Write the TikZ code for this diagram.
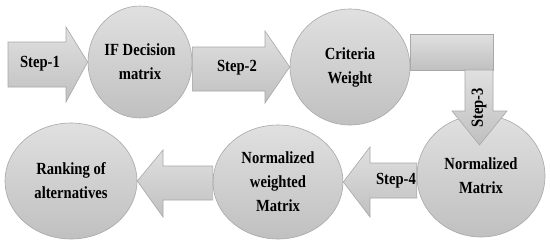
\documentclass[tikz,border=0pt]{standalone}
\usepackage{fontspec}
\usetikzlibrary{shapes.geometric}
\newfontfamily\lblfont{Liberation Serif}[FakeStretch=0.86]
\definecolor{edgegray}{RGB}{168,168,168}
\definecolor{topgray}{RGB}{224,224,224}
\definecolor{botgray}{RGB}{192,192,192}
\begin{document}
\begin{tikzpicture}[x=1pt,y=-1pt,
  shp/.style={draw=edgegray, line width=0.6pt, top color=topgray, bottom color=botgray},
  blob/.style={shp, ellipse, inner sep=0pt},
  lbl/.style={font=\lblfont\bfseries\fontsize{17}{24}\selectfont, align=center, inner sep=0pt, text=black}]
\useasboundingbox (0,0) rectangle (550,247);
\fill[white] (0,0) rectangle (550,247);
% circles
\node[blob, minimum width=104, minimum height=112, lbl] (c1) at (140,62) {IF Decision\\matrix};
\node[blob, minimum width=120, minimum height=116, lbl] (c2) at (350,67) {Criteria\\Weight};
\node[blob, minimum width=128, minimum height=122, lbl] (c3) at (481,176) {Normalized\\Matrix};
\node[blob, minimum width=130, minimum height=114, lbl] (c4) at (278,182) {Normalized\\weighted\\Matrix};
\node[blob, minimum width=132, minimum height=116, lbl] (c5) at (71,181) {Ranking of\\alternatives};
\coordinate (t3) at (479.5,145);
% Step-1
\draw[shp] (8,42) -- (66,42) -- (66,27) -- (c1.west) -- (66,102) -- (66,87) -- (8,87) -- cycle;
\node[lbl] (s1) at (40,64) {Step-1};
% Step-2
\draw[shp] (c1.east |- 0,47) -- (265,47) -- (265,31) -- (c2.west) -- (265,103) -- (265,91) -- (c1.east |- 0,91) -- cycle;
\node[lbl] (s2) at (237,68) {Step-2};
% Step-3 elbow
\draw[shp] (c2.east |- 0,34) -- (493,34) -- (493,70) -- (c2.east |- 0,70) -- cycle;
\draw[shp] (465,70) -- (493,70) -- (493,111) -- (507,111) -- (t3) -- (452,111) -- (465,111) -- cycle;
\node[lbl, rotate=90] (s3) at (479,108) {Step-3};
% Step-4
\draw[shp] (c3.west |- 0,163) -- (370,163) -- (370,147) -- (c4.east) -- (370,217) -- (370,198) -- (c3.west |- 0,198) -- cycle;
\node[lbl] (s4) at (396,181) {Step-4};
% final arrow
\draw[shp] (c4.west |- 0,166) -- (163,166) -- (163,150) -- (c5.east) -- (163,217) -- (163,200) -- (c4.west |- 0,200) -- cycle;
\end{tikzpicture}
\end{document}
